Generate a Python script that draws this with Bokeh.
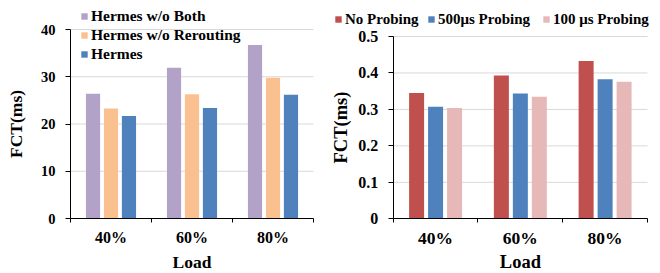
from bokeh.plotting import figure
from bokeh.models import Range1d, FixedTicker, Legend, LegendItem, Label, LinearAxis
from bokeh.layouts import row
from bokeh.embed import file_html
from bokeh.resources import INLINE

# ---- data ----
loads = ["40%", "60%", "80%"]
x_title = "Load"
y_title = "FCT(ms)"

left_series = ["Hermes w/o Both", "Hermes w/o Rerouting", "Hermes"]
hermes_wo_both = [26.4, 31.9, 36.7]
hermes_wo_rerouting = [23.3, 26.3, 29.8]
hermes = [21.7, 23.4, 26.2]
left_colors = ["#b3a2c7", "#fac090", "#4f81bd"]
left_yticks = [0, 10, 20, 30, 40]
left_ytick_labels = ["0", "10", "20", "30", "40"]

right_series = ["No Probing", "500\u03bcs Probing", "100 \u03bcs Probing"]
no_probing = [0.345, 0.393, 0.433]
probing_500us = [0.307, 0.344, 0.383]
probing_100us = [0.304, 0.335, 0.376]
right_colors = ["#c0504d", "#4f81bd", "#e6b9b8"]
right_yticks = [0, 0.1, 0.2, 0.3, 0.4, 0.5]
right_ytick_labels = ["0", "0.1", "0.2", "0.3", "0.4", "0.5"]

FONT = "Liberation Serif"
W, H = 330, 273


def legend_style(size):
    return dict(glyph_width=8, glyph_height=8, label_standoff=3, padding=0,
                margin=0, border_line_color=None, background_fill_alpha=0,
                label_text_font=FONT, label_text_font_style="bold",
                label_text_color="black", label_height=19,
                label_text_font_size=size)


def make_fig(series, values, colors, yticks, ytick_labels, ymax, frame_px,
             fs, offset, bar_w, ylab_standoff, xtick_standoff, xlab_y):
    # frame_px: pixel distances of the data box (x=0..n, y=0..ymax) from the
    # figure's left, right, top and bottom edges
    fl, fr, ft, fb = frame_px
    n = len(loads)
    xscale = (W - fl - fr) / n
    yscale = (H - ft - fb) / ymax
    x_range = Range1d(-fl / xscale, n + fr / xscale)
    y_range = Range1d(-fb / yscale, ymax + ft / yscale)
    p = figure(width=W, height=H, output_backend="svg", toolbar_location=None,
               x_range=x_range, y_range=y_range,
               x_axis_location=None, y_axis_location=None,
               min_border_left=0, min_border_right=0, min_border_top=0,
               min_border_bottom=0)
    p.outline_line_color = None
    p.background_fill_color = "white"
    p.xgrid.visible = False
    p.ygrid.visible = False

    # horizontal gridlines between the axis and the right end of the data box
    gy = [t for t in yticks if t != 0]
    p.segment(x0=[0] * len(gy), x1=[n] * len(gy), y0=gy, y1=gy,
              line_color="#d9d9d9", line_width=1)

    centers = [i + 0.5 for i in range(n)]
    items = []
    for k, (name, vals, col) in enumerate(zip(series, values, colors)):
        xs = [c + (k - 1) * offset for c in centers]
        r = p.vbar(x=xs, top=vals, width=bar_w, bottom=0, fill_color=col,
                   line_color=None)
        items.append(LegendItem(label=name, renderers=[r]))

    xa = LinearAxis(fixed_location=0, bounds=(0, n))
    xa.ticker = FixedTicker(ticks=centers, minor_ticks=list(range(n + 1)))
    xa.major_label_overrides = {c: l for c, l in zip(centers, loads)}
    xa.major_tick_line_color = None
    xa.major_tick_out = 0
    xa.major_tick_in = 0
    xa.minor_tick_line_color = "black"
    xa.minor_tick_out = 4
    xa.minor_tick_in = 0
    xa.axis_line_color = "black"
    xa.major_label_text_font = FONT
    xa.major_label_text_font_style = "bold"
    xa.major_label_text_font_size = fs["xtick"]
    xa.major_label_text_color = "black"
    xa.major_label_standoff = xtick_standoff
    p.add_layout(xa, "below")

    p.add_layout(Label(x=n / 2, y=xlab_y, y_units="screen", text=x_title,
                       text_align="center", text_baseline="middle",
                       text_font=FONT, text_font_style="bold",
                       text_font_size=fs["label"], text_color="black"))

    ya = LinearAxis(fixed_location=0, bounds=(0, ymax))
    ya.ticker = FixedTicker(ticks=yticks)
    ya.major_label_overrides = {t: l for t, l in zip(yticks, ytick_labels)}
    ya.minor_tick_line_color = None
    ya.major_tick_line_color = "black"
    ya.major_tick_out = 5
    ya.major_tick_in = 0
    ya.axis_line_color = "black"
    ya.major_label_text_font = FONT
    ya.major_label_text_font_style = "bold"
    ya.major_label_text_font_size = fs["ytick"]
    ya.major_label_text_color = "black"
    ya.major_label_standoff = 10
    ya.axis_label = y_title
    ya.axis_label_text_font = FONT
    ya.axis_label_text_font_style = "bold"
    ya.axis_label_text_font_size = fs["label"]
    ya.axis_label_text_color = "black"
    ya.axis_label_standoff = ylab_standoff
    p.add_layout(ya, "left")
    return p, items


p1, items1 = make_fig(left_series, [hermes_wo_both, hermes_wo_rerouting, hermes],
                      left_colors, left_yticks, left_ytick_labels, 40, (70, 17, 29, 55),
                      {"xtick": "16px", "ytick": "14.5px", "label": "17.5px"},
                      0.222, 0.175, 12, 6, 12)
p1.add_layout(Legend(items=items1, location=(80, 210), orientation="vertical",
                     spacing=0, **legend_style("15.5px")))

p2, items2 = make_fig(right_series, [no_probing, probing_500us, probing_100us],
                      right_colors, right_yticks, right_ytick_labels, 0.5,
                      (62.7, 13, 36, 54.7),
                      {"xtick": "17.5px", "ytick": "16px", "label": "18.5px"},
                      0.224, 0.177, 5, 5, 12)
# one legend entry per block, placed where each entry sits in the reference
for item, vx in zip(items2, [4, 97, 212]):
    p2.add_layout(Legend(items=[item], location=(vx, 244.5), orientation="horizontal",
                         **legend_style("15px")))

layout = row(p1, p2)
open("out.html", "w").write(file_html(layout, INLINE))
